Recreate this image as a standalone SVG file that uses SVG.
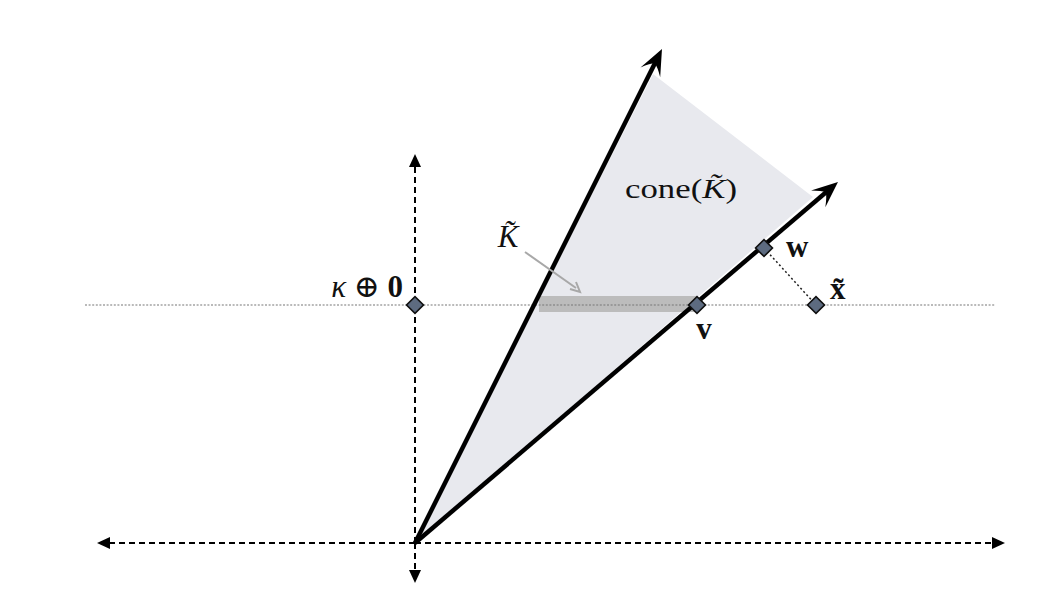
<svg xmlns="http://www.w3.org/2000/svg" width="1046" height="600" viewBox="0 0 1046 600">
<style>
.axis{stroke:#000;stroke-width:2;stroke-dasharray:6 4;fill:none}
.ray{stroke:#000;stroke-width:4.5;fill:none}
.lbl{font-family:"Liberation Serif","DejaVu Serif",serif;fill:#111}
.pt{fill:#5d6b80;stroke:#111;stroke-width:1.6}
</style>
<defs>
<marker id="tri" markerUnits="userSpaceOnUse" markerWidth="16" markerHeight="14" refX="2" refY="7" orient="auto" viewBox="0 0 16 14">
<path d="M0,1 L13,7 L0,13 Z" fill="#000"/>
</marker>
<marker id="stealth" markerUnits="userSpaceOnUse" markerWidth="34" markerHeight="28" refX="20" refY="14" orient="auto" viewBox="0 0 34 28">
<path d="M28,14 L2,3 Q10,10 12,14 Q10,18 2,25 Z" fill="#000"/>
</marker>
</defs>
<rect width="1046" height="600" fill="#fff"/>
<g id="cone-region">
<polygon points="415,543 653,74 813,197" fill="#e8e9ee"/>
<rect x="539" y="296" width="158" height="16" fill="#bcbcbc"/>
</g>
<g id="connectors">
<line x1="85" y1="305" x2="995" y2="305" stroke="#777" stroke-width="1.2" stroke-dasharray="2 1.6"/>
<line class="axis" x1="415" y1="543" x2="415" y2="165" marker-end="url(#tri)"/>
<line class="axis" x1="415" y1="543" x2="415" y2="572" marker-end="url(#tri)"/>
<line class="axis" x1="415" y1="543" x2="108" y2="543" marker-end="url(#tri)"/>
<line class="axis" x1="415" y1="543" x2="994" y2="543" marker-end="url(#tri)"/>
<line class="ray" x1="415" y1="543" x2="658.4" y2="56.2" marker-end="url(#stealth)"/>
<line class="ray" x1="415" y1="543" x2="831.9" y2="187.2" marker-end="url(#stealth)"/>
<line x1="764" y1="248" x2="816" y2="305" stroke="#222" stroke-width="1.5" stroke-dasharray="2 2.5"/>
<line x1="525" y1="252" x2="576" y2="288" stroke="#a8a8a8" stroke-width="2"/>
<path d="M570,289 L580,292 L576,282" fill="none" stroke="#a8a8a8" stroke-width="2"/>
</g>
<g id="node-origin">
<rect class="pt" x="409" y="299" width="12" height="12" transform="rotate(45 415 305)"/>
<text class="lbl" x="403" y="297" font-size="31" text-anchor="end"><tspan font-style="italic">κ</tspan> ⊕ <tspan font-weight="bold">0</tspan></text>
</g>
<g id="node-v">
<rect class="pt" x="691" y="299" width="12" height="12" transform="rotate(45 697 305)"/>
<text class="lbl" x="704" y="339" font-size="31" font-weight="bold" text-anchor="middle">v</text>
</g>
<g id="node-w">
<rect class="pt" x="758" y="242" width="12" height="12" transform="rotate(45 764 248)"/>
<text class="lbl" x="786" y="257" font-size="31" font-weight="bold">w</text>
</g>
<g id="node-x">
<rect class="pt" x="810" y="299" width="12" height="12" transform="rotate(45 816 305)"/>
<text class="lbl" x="830" y="299" font-size="31" font-weight="bold">x̃</text>
</g>
<g id="label-K">
<text class="lbl" x="508" y="247" font-size="31" font-style="italic" text-anchor="middle">K̃</text>
</g>
<g id="label-cone">
<text class="lbl" x="625" y="198" font-size="28" fill="#333" textLength="112" lengthAdjust="spacingAndGlyphs">cone(<tspan font-style="italic">K̃</tspan>)</text>
</g>
</svg>
